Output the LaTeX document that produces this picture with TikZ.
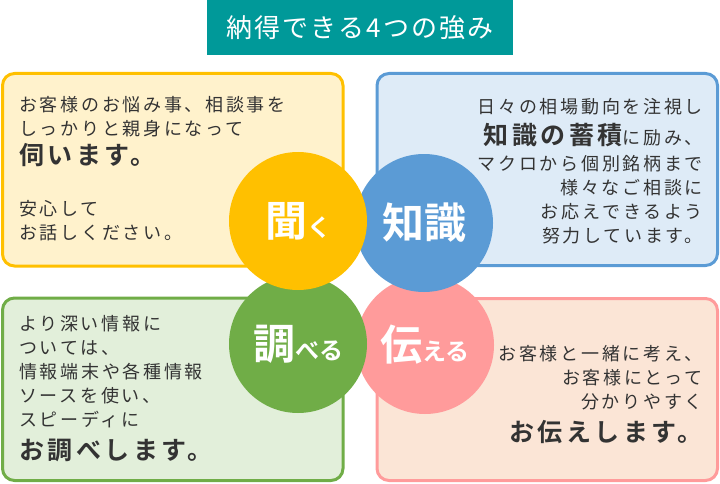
\documentclass[tikz,border=0pt]{standalone}
\usepackage{fontspec}
\usepackage{tikz}
\usetikzlibrary{positioning}
\setmainfont{Noto Sans CJK JP}
\newfontfamily\bodyfont{Noto Sans CJK JP}[LetterSpace=15]
\newfontfamily\strongfont{Noto Sans CJK JP Bold}[LetterSpace=14]
\newfontfamily\titlefont{Noto Sans CJK JP}[LetterSpace=8]
\newfontfamily\badgefont{Noto Sans CJK JP Bold}
\definecolor{titleTeal}{HTML}{009999}
\definecolor{mainText}{HTML}{333333}
\definecolor{kikuYellow}{HTML}{FFC000}
\definecolor{kikuFill}{HTML}{FFF2CC}
\definecolor{chishikiBlue}{HTML}{5B9BD5}
\definecolor{chishikiFill}{HTML}{DEEBF7}
\definecolor{shiraberuGreen}{HTML}{70AD47}
\definecolor{shiraberuFill}{HTML}{E2EFDA}
\definecolor{tsutaeruPink}{HTML}{FF9B9B}
\definecolor{tsutaeruFill}{HTML}{FBE5D6}
\newcommand{\badgeBig}[1]{{\badgefont\fontsize{42}{42}\selectfont #1}}
\newcommand{\badgeSmall}[1]{{\badgefont\fontsize{24}{24}\selectfont #1}}
\newcommand{\strongLine}[1]{{\strongfont\fontsize{25}{28}\selectfont #1}}

\begin{document}
\begin{tikzpicture}[x=1pt, y=-1pt,
    panel/.style={rectangle, rounded corners=12pt, line width=3pt, inner sep=0pt, minimum width=340.5pt},
    badge/.style={circle, inner sep=0pt, minimum size=138pt, text=white},
    memo/.style={inner sep=0pt, text=mainText, font=\bodyfont\fontsize{18}{24}\selectfont}]
    \useasboundingbox (0,0) rectangle (720,484);

    % Title
    \node[fill=titleTeal, text=white, minimum width=306pt, minimum height=55pt, inner sep=0pt,
          font=\titlefont\fontsize{26}{26}\selectfont] (title) at (360,27.5) {納得できる4つの強み};

    % Panels
    \node[panel, draw=kikuYellow, fill=kikuFill, minimum height=192.5pt] (kikuPanel) at (172.75,169.75) {};
    \node[panel, draw=chishikiBlue, fill=chishikiFill, minimum height=192pt] (chishikiPanel) at (547.25,169.5) {};
    \node[panel, draw=shiraberuGreen, fill=shiraberuFill, minimum height=182.5pt] (shiraberuPanel) at (172.75,389.25) {};
    \node[panel, draw=tsutaeruPink, fill=tsutaeruFill, minimum height=182pt] (tsutaeruPanel) at (547.25,389.5) {};

    % Circles
    \node[badge, fill=tsutaeruPink] (tsutaeru) at (425,345) {\badgeBig{伝}\badgeSmall{える}};
    \node[badge, fill=shiraberuGreen] (shiraberu) at (298,344) {\badgeBig{調}\badgeSmall{べる}};
    \node[badge, fill=chishikiBlue] (chishiki) at (424,223) {\badgeBig{知識}};
    \node[badge, fill=kikuYellow] (kiku) at (298,221) {\badgeBig{聞}\badgeSmall{く}};

    % Texts
    \node[memo, anchor=north west, align=left] (kikuMemo) at (19,96)
        {お客様のお悩み事、相談事を\\しっかりと親身になって\\[5pt]\strongLine{伺います。}\\[27pt]安心して\\お話しください。};
    \node[memo, anchor=north east, align=right] (chishikiMemo) at (703,98)
        {日々の相場動向を注視し\\[7pt]\strongLine{知識の蓄積}に励み、\\[2pt]マクロから個別銘柄まで\\様々なご相談に\\お応えできるよう\\努力しています。};
    \node[memo, anchor=north west, align=left] (shiraberuMemo) at (19,315)
        {より深い情報に\\ついては、\\情報端末や各種情報\\ソースを使い、\\スピーディに\\[9pt]\strongLine{お調べします。}};
    \node[memo, anchor=north east, align=right] (tsutaeruMemo) at (703,345)
        {お客様と一緒に考え、\\お客様にとって\\分かりやすく\\[9pt]\strongLine{お伝えします。}};
\end{tikzpicture}
\end{document}
